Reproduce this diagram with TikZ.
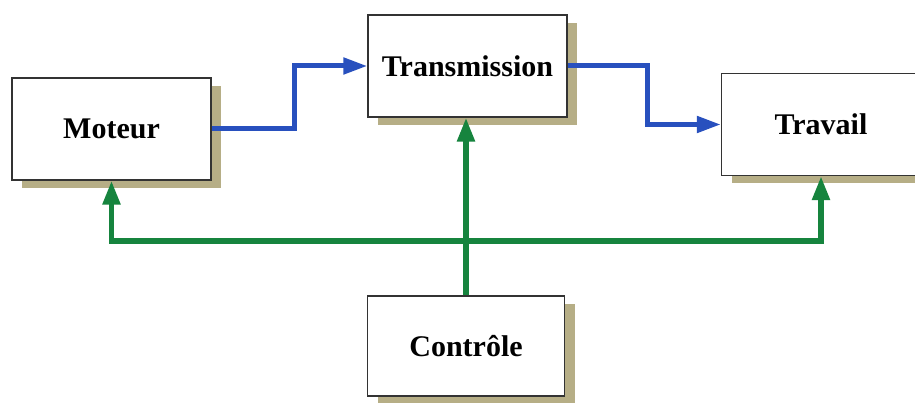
\documentclass[tikz,border=0pt]{standalone}
\usepackage{fontspec}
\setmainfont{Liberation Serif}
\usetikzlibrary{arrows.meta,shadows}
\definecolor{flowblue}{RGB}{40,80,190}
\definecolor{ctrlgreen}{RGB}{22,132,62}
\definecolor{shadowc}{RGB}{182,174,134}
\tikzset{
  blk/.style={draw=black!80, line width=1.4pt, fill=white, minimum width=199pt, minimum height=102pt,
    font=\fontsize{30}{34}\selectfont\bfseries, inner sep=0pt,
    drop shadow={shadow xshift=10pt, shadow yshift=-8pt, fill=shadowc, opacity=1}},
  btip/.tip={Triangle[length=24pt,width=16pt]},
  gtip/.tip={Triangle[length=24pt,width=17pt]},
  blueflow/.style={draw=flowblue, line width=5pt, -btip},
  greenflow/.style={draw=ctrlgreen, line width=5.5pt}
}
\begin{document}
\begin{tikzpicture}[x=1pt,y=-1pt]
\useasboundingbox (0,0) rectangle (915,403);
\clip (0,0) rectangle (915,403);
\fill[white] (0,0) rectangle (915,403);
\node[blk] (moteur) at (111.5,129) {Moteur};
\node[blk] (trans) at (467.5,66) {Transmission};
\node[blk] (travail) at (821,124.5) {Travail};
\node[blk, minimum width=197pt, minimum height=100pt] (ctrl) at (466,346) {Contrôle};
\coordinate (bus) at (111.5,241);
\draw[blueflow] (moteur.east) -- ++(83,0) |- (trans.west);
\draw[blueflow] (trans.east) -- ++(80,0) |- (travail.west);
\draw[greenflow, gtip-gtip] (moteur.south) -- (bus) -| (travail.south);
\draw[greenflow, -gtip] (ctrl.north) -- (ctrl.north |- trans.south);
\end{tikzpicture}
\end{document}
